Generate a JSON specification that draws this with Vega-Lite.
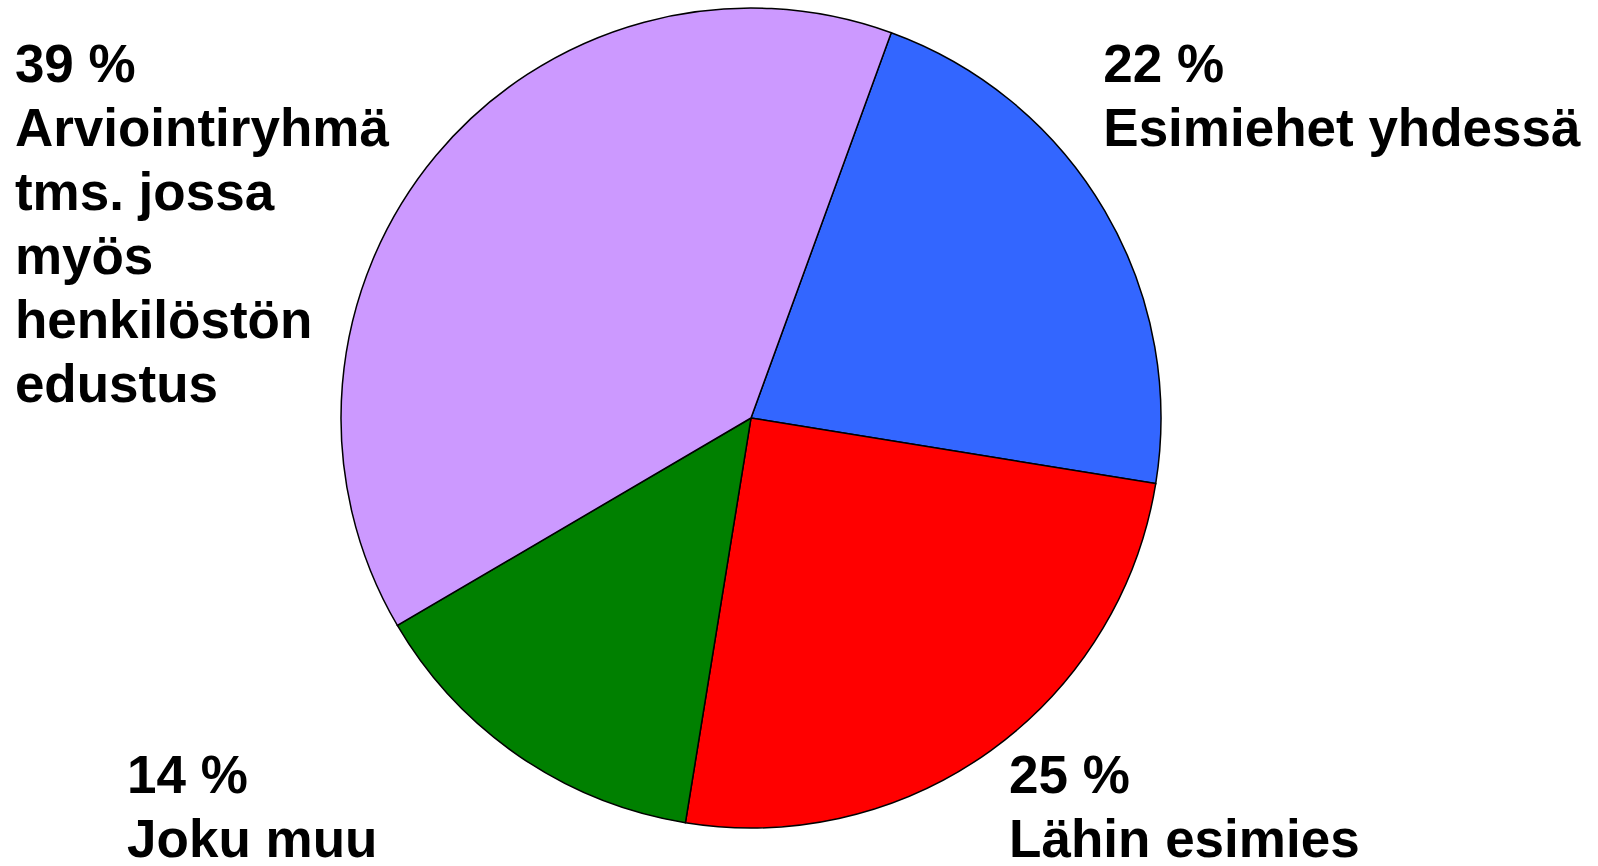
{
  "$schema": "https://vega.github.io/schema/vega-lite/v6.json",
  "width": 1502,
  "height": 836,
  "padding": 0,
  "autosize": {"type": "pad"},
  "background": "white",
  "config": {"view": {"stroke": null}},
  "data": {
    "values": [
      {"nro": 1, "kategoria": "Esimiehet yhdessä", "osuus": 22},
      {"nro": 2, "kategoria": "Lähin esimies", "osuus": 25},
      {"nro": 3, "kategoria": "Joku muu", "osuus": 14},
      {"nro": 4, "kategoria": "Arviointiryhmä\ntms. jossa\nmyös\nhenkilöstön\nedustus", "osuus": 39}
    ]
  },
  "transform": [
    {"calculate": "datum.osuus + ' %\\n' + datum.kategoria", "as": "nimio"}
  ],
  "resolve": {"scale": {"x": "independent"}},
  "layer": [
    {
      "mark": {"type": "arc", "outerRadius": 410, "stroke": "black", "strokeWidth": 1.5},
      "encoding": {
        "theta": {"field": "osuus", "type": "quantitative", "stack": true, "scale": {"range": [0.3491, 6.6323]}},
        "color": {
          "field": "kategoria",
          "type": "nominal",
          "scale": {
            "domain": ["Esimiehet yhdessä", "Lähin esimies", "Joku muu", "Arviointiryhmä\ntms. jossa\nmyös\nhenkilöstön\nedustus"],
            "range": ["#3366FF", "#FF0000", "#008000", "#CC99FF"]
          },
          "legend": null
        },
        "order": {"field": "nro", "type": "quantitative"}
      }
    },
    {
      "transform": [{"filter": {"field": "kategoria", "oneOf": ["Arviointiryhmä\ntms. jossa\nmyös\nhenkilöstön\nedustus", "Esimiehet yhdessä"]}}],
      "mark": {"type": "text", "align": "left", "baseline": "alphabetic", "font": "Liberation Sans", "fontWeight": "bold", "fontSize": 53, "lineHeight": 64, "lineBreak": "\n", "color": "black"},
      "encoding": {
        "text": {"field": "nimio", "type": "nominal"},
        "x": {"field": "kategoria", "type": "nominal", "axis": null, "scale": {"type": "point", "domain": ["Arviointiryhmä\ntms. jossa\nmyös\nhenkilöstön\nedustus", "Esimiehet yhdessä"], "padding": 0.19, "align": 0.036}},
        "y": {"datum": "ylä", "type": "nominal", "axis": null, "scale": {"type": "point", "domain": ["ylä", "ala"], "padding": 0.0879, "align": 0.656}}
      }
    },
    {
      "transform": [{"filter": {"field": "kategoria", "oneOf": ["Joku muu", "Lähin esimies"]}}],
      "mark": {"type": "text", "align": "left", "baseline": "alphabetic", "font": "Liberation Sans", "fontWeight": "bold", "fontSize": 53, "lineHeight": 64, "lineBreak": "\n", "color": "black"},
      "encoding": {
        "text": {"field": "nimio", "type": "nominal"},
        "x": {"field": "kategoria", "type": "nominal", "axis": null, "scale": {"type": "point", "domain": ["Joku muu", "Lähin esimies"], "padding": 0.3515, "align": 0.205}},
        "y": {"datum": "ala", "type": "nominal", "axis": null}
      }
    }
  ]
}
